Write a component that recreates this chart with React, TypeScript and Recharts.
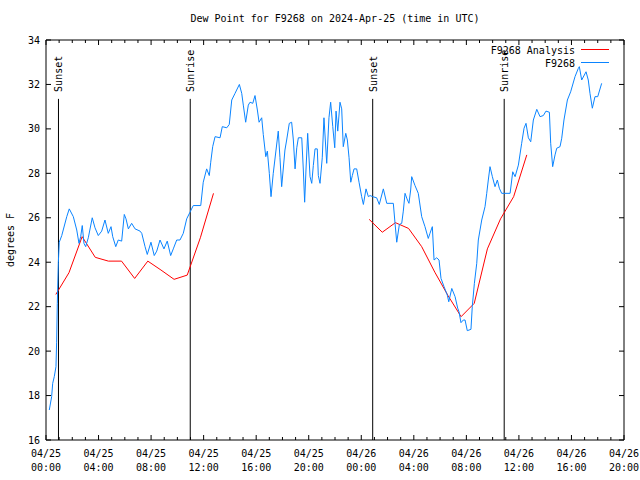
import React from 'react';
import { LineChart, Line, XAxis, YAxis, ReferenceLine, Legend } from 'recharts';

// ---- data (hours since 2024-04-25 00:00 UTC) ----
const blueHours = [
  0.25, 0.43, 0.51, 0.63, 0.76, 0.81, 0.86, 0.94, 1.01, 1.2, 1.58, 1.77, 2.08, 2.34, 2.51, 2.64, 2.76, 2.89,
  3.02, 3.22, 3.52, 3.73, 3.98, 4.24, 4.49, 4.74, 4.95, 5.08, 5.31, 5.5, 5.76, 5.96, 6.09, 6.27, 6.52, 6.78,
  7.16, 7.29, 7.54, 7.71, 7.99, 8.24, 8.43, 8.68, 8.98, 9.23, 9.49, 9.69, 9.95, 10.2, 10.45, 10.71, 10.96,
  11.21, 11.78, 11.97, 12.23, 12.43, 12.54, 12.69, 12.87, 13.25, 13.42, 13.76, 13.95, 14.14, 14.39, 14.72,
  14.9, 15.02, 15.2, 15.4, 15.53, 15.74, 15.91, 16.09, 16.22, 16.42, 16.54, 16.73, 16.85, 17.0, 17.13, 17.3,
  17.51, 17.68, 17.81, 17.94, 18.19, 18.32, 18.52, 18.7, 18.83, 18.96, 19.09, 19.21, 19.47, 19.59, 19.69,
  19.79, 19.92, 20.1, 20.23, 20.35, 20.48, 20.65, 20.73, 20.86, 21.03, 21.16, 21.37, 21.54, 21.67, 21.83,
  21.98, 22.08, 22.21, 22.38, 22.51, 22.63, 22.82, 22.94, 23.07, 23.2, 23.32, 23.45, 23.65, 23.83, 24.03,
  24.16, 24.36, 24.54, 24.67, 24.87, 25.17, 25.37, 25.68, 25.94, 26.44, 26.57, 26.7, 26.9, 27.08, 27.2,
  27.33, 27.48, 27.63, 27.76, 27.84, 28.09, 28.34, 28.6, 28.85, 29.1, 29.23, 29.41, 29.54, 29.74, 29.92,
  30.07, 30.3, 30.55, 30.66, 30.89, 31.14, 31.34, 31.44, 31.59, 31.77, 31.9, 32.07, 32.35, 32.45, 32.61,
  32.79, 32.91, 33.17, 33.42, 33.55, 33.67, 33.8, 33.98, 34.18, 34.36, 34.51, 34.69, 35.33, 35.53, 35.71,
  35.96, 36.21, 36.39, 36.54, 36.72, 36.9, 37.1, 37.36, 37.61, 37.86, 38.06, 38.32, 38.42, 38.57, 38.75,
  38.88, 39.13, 39.26, 39.43, 39.69, 39.94, 40.27, 40.52, 40.6, 40.78, 41.11, 41.28, 41.41, 41.59, 41.79,
  42.0, 42.3,
];
const blueValues = [
  17.35, 17.95, 18.55, 18.85, 19.3, 20.4, 22.15, 24.0, 24.9, 25.2, 26.05, 26.4, 26.05, 25.45, 24.85, 25.15,
  25.65, 24.85, 24.7, 25.1, 26.0, 25.55, 25.2, 25.4, 25.9, 25.3, 25.6, 25.15, 24.7, 25.0, 24.95, 26.15,
  25.95, 25.5, 25.75, 25.5, 25.4, 25.3, 24.7, 24.35, 24.9, 24.3, 24.5, 25.0, 24.6, 24.95, 24.3, 24.6, 25.0,
  25.0, 25.3, 25.95, 26.25, 26.55, 26.55, 27.6, 28.2, 27.9, 28.5, 29.2, 29.65, 29.6, 30.1, 30.05, 30.2,
  31.3, 31.6, 32.0, 31.6, 31.07, 30.3, 31.07, 31.2, 31.15, 31.5, 30.85, 30.3, 30.5, 29.75, 28.75, 29.0,
  28.0, 26.95, 28.0, 29.05, 29.9, 28.7, 27.4, 29.05, 29.5, 30.25, 30.3, 29.5, 28.2, 29.15, 29.6, 29.6,
  28.15, 26.7, 28.15, 29.8, 27.85, 27.55, 28.35, 29.1, 29.1, 27.9, 27.55, 28.7, 30.5, 28.45, 30.5, 31.2,
  30.1, 29.15, 30.8, 29.9, 31.2, 30.9, 29.2, 29.8, 29.5, 28.7, 27.6, 27.9, 28.2, 28.2, 27.6, 26.95, 26.6,
  27.3, 26.95, 27.0, 26.95, 26.9, 26.6, 27.3, 26.65, 26.65, 25.75, 24.9, 25.7, 25.75, 26.3, 27.1, 26.85,
  26.65, 27.25, 27.85, 27.45, 27.1, 26.05, 25.6, 25.07, 25.3, 25.6, 24.1, 24.2, 24.1, 23.27, 22.9, 22.52,
  22.22, 22.82, 22.45, 21.93, 21.77, 21.28, 21.4, 21.4, 20.92, 20.98, 22.0, 23.05, 23.95, 25.0, 25.9, 26.5,
  27.1, 27.7, 28.3, 27.85, 27.4, 27.7, 27.33, 27.1, 27.1, 28.07, 27.85, 28.37, 29.35, 30.03, 30.25, 29.6,
  29.42, 30.4, 30.88, 30.55, 30.6, 30.8, 30.75, 29.35, 28.3, 28.83, 29.13, 29.2, 29.58, 30.4, 31.3, 31.67,
  32.35, 32.72, 32.8, 32.2, 32.57, 32.2, 31.6, 30.93, 31.45, 31.45, 32.05,
];
const redHours1 = [0.75, 1.75, 2.75, 3.75, 4.75, 5.75, 6.75, 7.75, 8.75, 9.75, 10.75, 11.75, 12.75];
const redValues1 = [22.55, 23.53, 25.15, 24.22, 24.05, 24.05, 23.27, 24.05, 23.65, 23.23, 23.42, 25.1, 27.1];
const redHours2 = [24.6, 25.6, 26.6, 27.6, 28.6, 29.6, 30.6, 31.6, 32.6, 33.6, 34.6, 35.6, 36.6];
const redValues2 = [25.93, 25.35, 25.78, 25.52, 24.7, 23.55, 22.5, 21.55, 22.15, 24.6, 25.95, 26.95, 28.83];

const majorTickHours = [0, 4, 8, 12, 16, 20, 24, 28, 32, 36, 40, 44];
const tickDates = ['04/25', '04/25', '04/25', '04/25', '04/25', '04/25', '04/26', '04/26', '04/26', '04/26', '04/26', '04/26'];
const tickTimes = ['00:00', '04:00', '08:00', '12:00', '16:00', '20:00', '00:00', '04:00', '08:00', '12:00', '16:00', '20:00'];
const hourTicks = Array.from({ length: 45 }, (_, i) => i);
const yTicks = [16, 18, 20, 22, 24, 26, 28, 30, 32, 34];

const sunHours = [0.95, 10.98, 24.87, 34.88];
const sunLabels = ['Sunset', 'Sunrise', 'Sunset', 'Sunrise'];
const sunLineTop = 31.35;

const seriesNames = ['F9268 Analysis', 'F9268'];
const TITLE = 'Dew Point for F9268 on 2024-Apr-25 (time in UTC)';
const FONT = "'DejaVu Sans Mono', monospace";
const FS = 10;
const BLUE = '#0a84ff';
const RED = '#ff0000';

const blueData = blueHours.map((t, i) => ({ t, v: blueValues[i] }));
const redData = [
  ...redHours1.map((t, i) => ({ t, v: redValues1[i] as number | null })),
  { t: 18, v: null },
  ...redHours2.map((t, i) => ({ t, v: redValues2[i] as number | null })),
];

const BottomTick = (props: any) => {
  const { x, y, payload } = props;
  const h = payload.value;
  const idx = majorTickHours.indexOf(h);
  const major = idx >= 0;
  return (
    <g>
      <line x1={x} x2={x} y1={y} y2={y - (major ? 5 : 3)} stroke="#000" strokeWidth={1} />
      {major && (
        <text x={x} y={y + 17} textAnchor="middle" fontFamily={FONT} fontSize={FS} fill="#000">
          {tickDates[idx]}
        </text>
      )}
      {major && (
        <text x={x} y={y + 31} textAnchor="middle" fontFamily={FONT} fontSize={FS} fill="#000">
          {tickTimes[idx]}
        </text>
      )}
    </g>
  );
};

const TopTick = (props: any) => {
  const { x, y, payload } = props;
  const major = majorTickHours.indexOf(payload.value) >= 0;
  return <line x1={x} x2={x} y1={y} y2={y + (major ? 5 : 3)} stroke="#000" strokeWidth={1} />;
};

const LeftTick = (props: any) => {
  const { x, y, payload } = props;
  return (
    <g>
      <line x1={x} x2={x + 5} y1={y} y2={y} stroke="#000" strokeWidth={1} />
      <text x={x - 6} y={y + 3.5} textAnchor="end" fontFamily={FONT} fontSize={FS} fill="#000">
        {payload.value}
      </text>
    </g>
  );
};

const RightTick = (props: any) => {
  const { x, y } = props;
  return <line x1={x} x2={x - 5} y1={y} y2={y} stroke="#000" strokeWidth={1} />;
};

const sunLabel = (text: string) => (p: any) => {
  const vb = p.viewBox || {};
  const lx = vb.x !== undefined ? vb.x : vb.x1;
  const ly = vb.y !== undefined ? vb.y : Math.min(vb.y1, vb.y2);
  const tx = lx + 4;
  const ty = ly - 7;
  return (
    <text
      x={tx}
      y={ty}
      transform={`rotate(-90 ${tx} ${ty})`}
      textAnchor="start"
      fontFamily={FONT}
      fontSize={FS}
      fill="#000"
    >
      {text}
    </text>
  );
};

const renderLegend = (props: any) => {
  const payload = [...(props.payload || [])].sort(
    (a: any, b: any) => seriesNames.indexOf(a.value) - seriesNames.indexOf(b.value)
  );
  return (
    <svg width={640} height={32} style={{ display: 'block' }}>
      {payload.map((e: any, i: number) => (
        <g key={i}>
          <text x={575} y={13.5 + i * 13} textAnchor="end" fontFamily={FONT} fontSize={FS} fill="#000">
            {e.value}
          </text>
          <line x1={581} x2={609} y1={9.5 + i * 13} y2={9.5 + i * 13} stroke={e.color} strokeWidth={1} />
        </g>
      ))}
    </svg>
  );
};

export default function App() {
  return (
    <div style={{ position: 'absolute', left: 0, top: 0, width: 640, height: 480, background: '#fff' }}>
      <div
        style={{
          position: 'absolute',
          left: 46,
          top: 13,
          width: 578,
          textAlign: 'center',
          fontFamily: FONT,
          fontSize: FS,
          lineHeight: '12px',
          color: '#000',
          whiteSpace: 'nowrap',
        }}
      >
        {TITLE}
      </div>
      <LineChart width={640} height={480} margin={{ top: 39, right: 0, bottom: 0, left: 0 }}>
        <XAxis
          dataKey="t"
          type="number"
          domain={[0, 44]}
          ticks={hourTicks}
          interval={0}
          height={40}
          tickSize={0}
          tickMargin={0}
          tick={<BottomTick />}
          tickLine={false}
          axisLine={{ stroke: '#000' }}
          allowDataOverflow
        />
        <XAxis
          xAxisId="top"
          orientation="top"
          dataKey="t"
          type="number"
          domain={[0, 44]}
          ticks={hourTicks}
          interval={0}
          height={1}
          tickSize={0}
          tickMargin={0}
          tick={<TopTick />}
          tickLine={false}
          axisLine={{ stroke: '#000' }}
          allowDataOverflow
        />
        <YAxis
          type="number"
          domain={[16, 34]}
          ticks={yTicks}
          interval={0}
          width={46}
          tickSize={0}
          tickMargin={0}
          tick={<LeftTick />}
          tickLine={false}
          axisLine={{ stroke: '#000' }}
          allowDataOverflow
          label={{
            content: () => (
              <text
                x={14}
                y={240}
                transform="rotate(-90 14 240)"
                textAnchor="middle"
                fontFamily={FONT}
                fontSize={FS}
                fill="#000"
              >
                degrees F
              </text>
            ),
          }}
        />
        <YAxis
          yAxisId="right"
          orientation="right"
          type="number"
          domain={[16, 34]}
          ticks={yTicks}
          interval={0}
          width={16}
          tickSize={0}
          tickMargin={0}
          tick={<RightTick />}
          tickLine={false}
          axisLine={{ stroke: '#000' }}
          allowDataOverflow
        />
        {sunHours.map((h, i) => (
          <ReferenceLine
            key={i}
            segment={[
              { x: h, y: 16 },
              { x: h, y: sunLineTop },
            ]}
            stroke="#000"
            strokeWidth={1}
            label={{ content: sunLabel(sunLabels[i]) }}
          />
        ))}
        <Line
          data={redData}
          xAxisId="top"
          yAxisId="right"
          dataKey="v"
          name={seriesNames[0]}
          stroke={RED}
          strokeWidth={1}
          dot={false}
          activeDot={false}
          connectNulls={false}
          isAnimationActive={false}
        />
        <Line
          data={blueData}
          dataKey="v"
          name={seriesNames[1]}
          stroke={BLUE}
          strokeWidth={1}
          dot={false}
          activeDot={false}
          isAnimationActive={false}
        />
        <Legend
          layout="horizontal"
          verticalAlign="middle"
          align="center"
          content={renderLegend}
          wrapperStyle={{ top: 40, left: 0, width: 640, height: 32 }}
        />
      </LineChart>
    </div>
  );
}
